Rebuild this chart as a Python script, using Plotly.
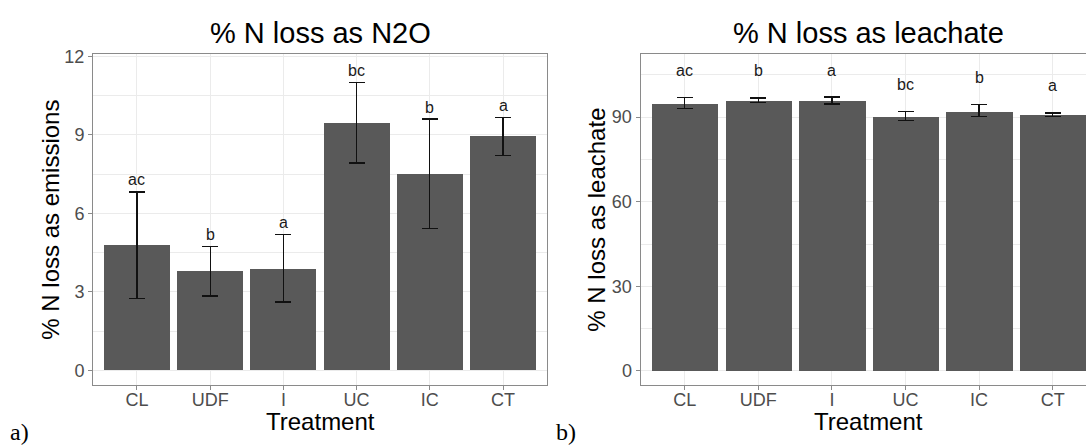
import plotly.graph_objects as go

# ---------------- data ----------------
treatments = ["CL", "UDF", "I", "UC", "IC", "CT"]

n2o_mean = [4.78, 3.78, 3.88, 9.45, 7.50, 8.94]
n2o_upper = [6.82, 4.74, 5.18, 11.01, 9.60, 9.67]
n2o_lower = [2.75, 2.84, 2.62, 7.92, 5.42, 8.22]
n2o_letters = ["ac", "b", "a", "bc", "b", "a"]

leach_mean = [94.9, 95.9, 95.8, 90.2, 92.1, 90.8]
leach_upper = [96.9, 96.8, 97.1, 91.9, 94.5, 91.5]
leach_lower = [93.1, 95.2, 94.7, 88.7, 90.1, 90.1]
leach_letters = ["ac", "b", "a", "bc", "b", "a"]

n2o_ticks = [0, 3, 6, 9, 12]
leach_ticks = [0, 30, 60, 90]

# ---------------- layout constants ----------------
W, H = 1086, 447
FONT = "Liberation Sans, Arial, Helvetica, sans-serif"
SERIF = "Liberation Serif, Times New Roman, serif"
BAR = "#595959"
GRID = "#EBEBEB"
BORDER = "#8a8a8a"
TICKTXT = "#4D4D4D"


def px(x):
    return x / W


def py(y):
    return 1 - y / H


fig = go.Figure()

def add_panel(mean, upper, lower, xa, ya):
    plus = [u - m for u, m in zip(upper, mean)]
    minus = [m - l for m, l in zip(mean, lower)]
    fig.add_trace(go.Bar(
        x=treatments, y=mean, width=0.9,
        marker=dict(color=BAR, line=dict(width=0)),
        error_y=dict(type="data", array=plus, arrayminus=minus,
                     color="#111111", thickness=1.3, width=8),
        xaxis=xa, yaxis=ya, showlegend=False, hoverinfo="skip",
    ))

add_panel(n2o_mean, n2o_upper, n2o_lower, "x", "y")
add_panel(leach_mean, leach_upper, leach_lower, "x2", "y2")

axis_common = dict(
    showline=True, linecolor=BORDER, linewidth=1,
    ticks="outside", ticklen=4, tickcolor=BORDER, tickwidth=1,
    tickfont=dict(family=FONT, size=18, color=TICKTXT),
    showgrid=True, gridcolor=GRID, gridwidth=1, zeroline=False,
)

fig.update_layout(
    width=W, height=H,
    margin=dict(l=0, r=0, t=0, b=0),
    paper_bgcolor="white", plot_bgcolor="white",
    bargap=0,
    xaxis=dict(domain=[px(93), px(547)], range=[-0.6, 5.6], type="category",
               mirror=True, anchor="y", ticklabelstandoff=-6, **axis_common),
    yaxis=dict(domain=[py(384), py(47)], range=[-0.56, 12.08],
               tickvals=n2o_ticks, mirror=True, anchor="x",
               minor=dict(dtick=1.5, tick0=0, showgrid=True, gridcolor=GRID,
                          gridwidth=0.6, ticks=""),
               **axis_common),
    xaxis2=dict(domain=[px(640.5), 1.0], range=[-0.6, 5.452], type="category",
                mirror=True, anchor="y2", ticklabelstandoff=-6, **axis_common),
    yaxis2=dict(domain=[py(384), py(46.5)], range=[-5.04, 112.5],
                tickvals=leach_ticks, mirror=False, anchor="x2",
                minor=dict(dtick=15, tick0=0, showgrid=True, gridcolor=GRID,
                           gridwidth=0.6, ticks=""),
                **axis_common),
)

ann = []
# significance letters
for t, u, s in zip(treatments, n2o_upper, n2o_letters):
    ann.append(dict(x=t, y=u, xref="x", yref="y", text=s, showarrow=False,
                    yanchor="middle", yshift=12,
                    font=dict(family=FONT, size=16, color="#1a1a1a")))
for t, u, s in zip(treatments, leach_upper, leach_letters):
    ann.append(dict(x=t, y=u, xref="x2", yref="y2", text=s, showarrow=False,
                    yanchor="middle", yshift=27,
                    font=dict(family=FONT, size=16, color="#1a1a1a")))

# titles
ann += [
    dict(x=px(320), y=py(25), xref="paper", yref="paper", text="% N loss as N2O",
         showarrow=False, xanchor="center", yanchor="middle",
         font=dict(family=FONT, size=29, color="black")),
    dict(x=px(868.7), y=py(25), xref="paper", yref="paper", text="% N loss as leachate",
         showarrow=False, xanchor="center", yanchor="middle",
         font=dict(family=FONT, size=29, color="black")),
    dict(x=px(320), y=py(421), xref="paper", yref="paper", text="Treatment",
         showarrow=False, xanchor="center", yanchor="middle",
         font=dict(family=FONT, size=24, color="black")),
    dict(x=px(868.7), y=py(421), xref="paper", yref="paper", text="Treatment",
         showarrow=False, xanchor="center", yanchor="middle",
         font=dict(family=FONT, size=24, color="black")),
    dict(x=px(50.5), y=py(216), xref="paper", yref="paper", text="% N loss as emissions",
         showarrow=False, xanchor="center", yanchor="middle", textangle=-90,
         font=dict(family=FONT, size=24, color="black")),
    dict(x=px(596.5), y=py(216), xref="paper", yref="paper", text="% N loss as leachate",
         showarrow=False, xanchor="center", yanchor="middle", textangle=-90,
         font=dict(family=FONT, size=24, color="black")),
    dict(x=px(8), y=py(432), xref="paper", yref="paper", text="a)",
         showarrow=False, xanchor="left", yanchor="middle",
         font=dict(family=SERIF, size=24, color="black")),
    dict(x=px(554), y=py(432), xref="paper", yref="paper", text="b)",
         showarrow=False, xanchor="left", yanchor="middle",
         font=dict(family=SERIF, size=24, color="black")),
]
fig.update_layout(annotations=ann)

fig.write_html("out.html")
